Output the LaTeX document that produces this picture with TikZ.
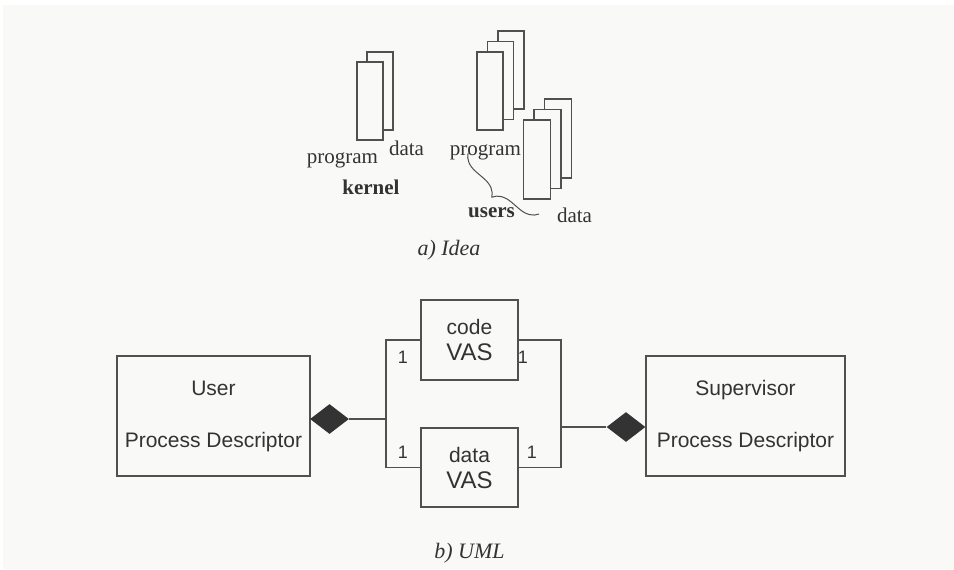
\documentclass[tikz,border=0pt]{standalone}
\usepackage{fontspec}
\setmainfont{Liberation Serif}
\setsansfont{Liberation Sans}
\usepackage{tikz}
\usetikzlibrary{positioning,shapes.geometric,decorations.pathreplacing}
\definecolor{bgcol}{RGB}{249,249,247}
\definecolor{linecol}{RGB}{80,80,80}
\definecolor{txtcol}{RGB}{51,51,51}
\tikzset{>=latex}
\tikzstyle{page} = [draw=linecol,fill=bgcol,line width=0.6pt,minimum width=13pt,minimum height=39pt,inner sep=0pt]
\tikzstyle{lbl} = [text=txtcol,inner sep=0pt,anchor=base,font=\fontsize{10.5}{12}\selectfont]
\tikzstyle{block} = [draw=linecol,line width=0.6pt,text=txtcol,align=center,inner sep=0pt,font=\sffamily\fontsize{10.5}{12}\selectfont]
\tikzstyle{agg} = [diamond,fill=txtcol,minimum width=19.5pt,minimum height=15pt,inner sep=0pt]
\tikzstyle{mult} = [text=txtcol,inner sep=0pt,font=\sffamily\fontsize{9}{10}\selectfont]

\begin{document}
\begin{tikzpicture}[x=0.5pt,y=-0.5pt]
    \useasboundingbox (0,0) rectangle (954,569);
    \fill[bgcol] (3,5) rectangle (954,569);

    % a) idea
    \node [page](k2) at (380,91) {};
    \node [page](k1) at (370,101) {};
    \foreach \id in {3,2,1}
    {
        \node [page](p\id) at ({490+10.5*(\id-1)},{91-10.5*(\id-1)}) {};
    }
    \foreach \id in {3,2,1}
    {
        \node [page,minimum width=13.5pt,minimum height=39.5pt](d\id) at ({537+10.5*(\id-1)},{159.5-10.5*(\id-1)}) {};
    }
    \node [lbl](kp) at (342.5,163) {program};
    \node [lbl](kd) at (406.5,155) {data};
    \node [lbl](kn) at (371,194) {\bfseries kernel};
    \node [lbl](up) at (485.5,155) {program};
    \node [lbl](un) at (491.5,217) {\bfseries users};
    \node [lbl](ud) at (574.5,222) {data};
    \coordinate (b1) at (539,214);
    \coordinate (b2) at (468,153);
    \draw [linecol,line width=0.5pt,decorate,decoration={brace,amplitude=9pt}] (b1) -- (b2);
    \node [lbl,font=\itshape\fontsize{11}{13}\selectfont](ca) at (449,255) {a) Idea};

    % b) uml
    \node [block,minimum width=96.5pt,minimum height=60pt](U) at (213.5,416) {User\\[14pt]Process Descriptor};
    \node [block,minimum width=99.5pt,minimum height=60pt](S) at (745.5,416) {Supervisor\\[14pt]Process Descriptor};
    \node [block,minimum width=48.5pt,minimum height=40pt](C) at (469.5,340) {code\\[1pt]{\fontsize{12}{13}\selectfont VAS}};
    \node [block,minimum width=48.5pt,minimum height=39.5pt](D) at (469.5,467.5) {data\\[1pt]{\fontsize{12}{13}\selectfont VAS}};
    \node [agg](dl) at (329.5,419) {};
    \node [agg](dr) at (626,427) {};
    \coordinate (lbus) at (386,419);
    \coordinate (rbus) at (561,427);
    \draw [linecol,line width=0.6pt] (C.west) -| (lbus) |- (D.west);
    \draw [linecol,line width=0.6pt] (dl.east) -- (lbus);
    \draw [linecol,line width=0.6pt] (C.east) -| (rbus) |- (D.east);
    \draw [linecol,line width=0.6pt] (rbus) -- (dr.west);
    \node [mult](m1) at (403,357) {1};
    \node [mult](m2) at (523,357) {1};
    \node [mult](m3) at (403,452) {1};
    \node [mult](m4) at (532,452) {1};
    \node [lbl,font=\itshape\fontsize{11}{13}\selectfont](cb) at (469.5,558) {b) UML};
\end{tikzpicture}
\end{document}
